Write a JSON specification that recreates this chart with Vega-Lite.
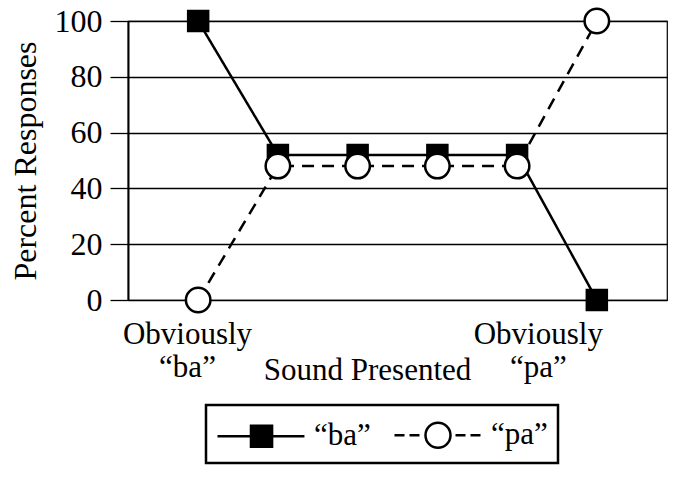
{
  "$schema": "https://vega.github.io/schema/vega-lite/v6.json",
  "width": 539,
  "height": 279,
  "autosize": "none",
  "padding": {"left": 128, "top": 21, "right": 17, "bottom": 178},
  "background": "white",
  "config": {
    "font": "Liberation Serif",
    "view": {"stroke": "black", "strokeWidth": 1.2},
    "axis": {"labelColor": "black", "titleColor": "black", "titleFontWeight": "normal", "labelFont": "Liberation Serif", "titleFont": "Liberation Serif"},
    "legend": {"strokeWidth": 2.5}
  },
  "data": {
    "values": [
      {"pos": 1, "pct": 100, "series": "“ba”"},
      {"pos": 2, "pct": 52, "series": "“ba”"},
      {"pos": 3, "pct": 52, "series": "“ba”"},
      {"pos": 4, "pct": 52, "series": "“ba”"},
      {"pos": 5, "pct": 52, "series": "“ba”"},
      {"pos": 6, "pct": 0, "series": "“ba”"},
      {"pos": 1, "pct": 0, "series": "“pa”"},
      {"pos": 2, "pct": 48, "series": "“pa”"},
      {"pos": 3, "pct": 48, "series": "“pa”"},
      {"pos": 4, "pct": 48, "series": "“pa”"},
      {"pos": 5, "pct": 48, "series": "“pa”"},
      {"pos": 6, "pct": 100, "series": "“pa”"}
    ]
  },
  "encoding": {
    "x": {
      "field": "pos",
      "type": "quantitative",
      "scale": {"domain": [0.12, 6.88], "nice": false, "zero": false},
      "axis": {
        "values": [0.86, 5.26],
        "labelExpr": "datum.value < 3 ? ['Obviously', '“ba”'] : ['Obviously', '“pa”']",
        "labelFontSize": 31,
        "labelLineHeight": 33,
        "labelPadding": 19,
        "ticks": false,
        "grid": false,
        "domain": false,
        "title": "Sound Presented",
        "titleFontSize": 31,
        "titleX": 239,
        "titleY": 79,
        "titleBaseline": "alphabetic",
        "titleAnchor": "middle"
      }
    },
    "y": {
      "field": "pct",
      "type": "quantitative",
      "scale": {"domain": [0, 100], "nice": false},
      "axis": {
        "values": [0, 20, 40, 60, 80, 100],
        "grid": true,
        "gridColor": "black",
        "gridWidth": 1.3,
        "gridOpacity": 1,
        "tickColor": "black",
        "tickSize": 18,
        "tickWidth": 1.3,
        "domainColor": "black",
        "domainWidth": 2,
        "labelFontSize": 32,
        "labelPadding": 8,
        "title": "Percent Responses",
        "titleFontSize": 32,
        "titlePadding": 12
      }
    }
  },
  "layer": [
    {
      "mark": {"type": "line", "color": "black", "strokeWidth": 2.5},
      "encoding": {
        "strokeDash": {
          "field": "series",
          "type": "nominal",
          "scale": {"range": [[1, 0], [12, 8]]},
          "legend": null
        }
      }
    },
    {
      "mark": {"type": "point", "filled": true, "opacity": 1, "stroke": "black", "strokeWidth": 2.5},
      "encoding": {
        "shape": {
          "field": "series",
          "type": "nominal",
          "scale": {"range": ["square", "circle"]},
          "legend": null
        },
        "size": {
          "field": "series",
          "type": "nominal",
          "scale": {"range": [400, 600]},
          "legend": null
        },
        "fill": {
          "field": "series",
          "type": "nominal",
          "scale": {"domain": ["“ba”", "“pa”"], "range": ["black", "white"]},
          "legend": {
            "orient": "none",
            "legendX": 78,
            "legendY": 384,
            "direction": "horizontal",
            "title": null,
            "padding": 10,
            "strokeColor": "black",
            "labelFont": "Liberation Serif",
            "labelFontSize": 31,
            "labelColor": "black",
            "labelOffset": 58,
            "columnPadding": 18,
            "symbolSize": 1369,
            "symbolStrokeColor": "black",
            "symbolStrokeWidth": 2.5,
            "symbolOpacity": 1,
            "symbolType": {"expr": "datum.value === '“ba”' ? 'M-1,0H3.7M0.81,-0.57H1.95V0.57H0.81Z' : 'M-1,0H-0.459M-0.189,0H0.351M2.297,0H2.838M3.108,0H3.649M2.027,0A0.676,0.676 0 1,1 0.675,0A0.676,0.676 0 1,1 2.027,0Z'"}
          }
        }
      }
    }
  ]
}
